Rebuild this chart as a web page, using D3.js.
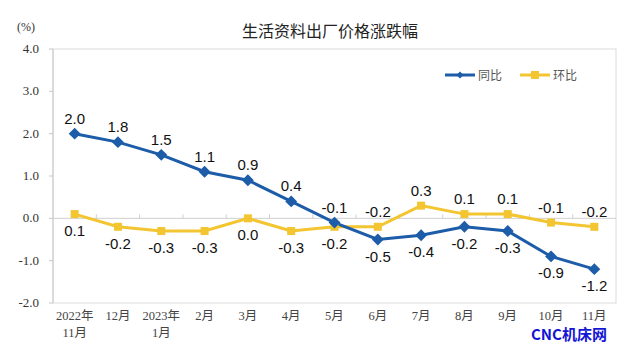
<!DOCTYPE html>
<html>
<head>
<meta charset="utf-8">
<script src="https://cdn.jsdelivr.net/npm/d3@7.9.0/dist/d3.min.js"></script>
<style>
  body { margin: 0; background: #fff; }
  svg { display: block; }
</style>
</head>
<body>
<svg id="chart" width="639" height="363"></svg>
<script>
// months, two lines per label
const months = [
  ['2022年', '11月'], ['12月'], ['2023年', '1月'], ['2月'], ['3月'], ['4月'],
  ['5月'], ['6月'], ['7月'], ['8月'], ['9月'], ['10月'], ['11月']
];
const yoy = [2.0, 1.8, 1.5, 1.1, 0.9, 0.4, -0.1, -0.5, -0.4, -0.2, -0.3, -0.9, -1.2];
const mom = [0.1, -0.2, -0.3, -0.3, 0.0, -0.3, -0.2, -0.2, 0.3, 0.1, 0.1, -0.1, -0.2];
// label above (1) or below (-1) the point
const yoyPos = [1, 1, 1, 1, 1, 1, 1, -1, -1, -1, -1, -1, -1];
const momPos = [-1, -1, -1, -1, -1, -1, -1, 1, 1, 1, 1, 1, 1];
const yTicks = [4.0, 3.0, 2.0, 1.0, 0.0, -1.0, -2.0];

const blue = '#1c5ca8';
const yellow = '#f2c531';

const svg = d3.select('#chart');
const margin = { top: 49, right: 23, bottom: 60, left: 53 };
const width = 639, height = 363;

const x = d3.scaleBand()
  .domain(d3.range(months.length))
  .range([margin.left, width - margin.right]);
const y = d3.scaleLinear().domain([-2, 4]).range([height - margin.bottom, margin.top]);
const cx = (i) => x(i) + x.bandwidth() / 2;

// frame
svg.append('rect')
  .attr('x', margin.left).attr('y', margin.top)
  .attr('width', width - margin.right - margin.left)
  .attr('height', y(-2) - y(4))
  .attr('fill', 'none').attr('stroke', '#dcdcdc');

// left axis line
svg.append('line')
  .attr('x1', margin.left).attr('x2', margin.left)
  .attr('y1', y(4)).attr('y2', y(-2))
  .attr('stroke', '#c8c8c8');

// y ticks + labels
svg.append('g').selectAll('line').data(yTicks).join('line')
  .attr('x1', margin.left - 4).attr('x2', margin.left)
  .attr('y1', (d) => y(d)).attr('y2', (d) => y(d))
  .attr('stroke', '#c8c8c8');
svg.append('g').selectAll('text').data(yTicks).join('text')
  .attr('x', 39).attr('y', (d) => y(d) + 4)
  .attr('text-anchor', 'end')
  .attr('font-family', 'Liberation Serif, serif')
  .attr('font-size', 13).attr('fill', '#333')
  .text((d) => d.toFixed(1));

// zero line with category ticks
svg.append('line')
  .attr('x1', margin.left).attr('x2', width - margin.right)
  .attr('y1', y(0)).attr('y2', y(0))
  .attr('stroke', '#cfcfcf');
svg.append('g').selectAll('line').data(d3.range(1, months.length)).join('line')
  .attr('x1', (i) => x(i)).attr('x2', (i) => x(i))
  .attr('y1', y(0) - 4).attr('y2', y(0))
  .attr('stroke', '#cfcfcf');

// x labels
const xl = svg.append('g').selectAll('text').data(months).join('text')
  .attr('x', (d, i) => cx(i)).attr('y', 320)
  .attr('text-anchor', 'middle')
  .attr('font-family', 'Liberation Serif, Noto Sans CJK SC, serif')
  .attr('font-size', 12.5).attr('fill', '#444');
xl.selectAll('tspan').data((d) => d).join('tspan')
  .attr('x', function () { return this.parentNode.getAttribute('x'); })
  .attr('dy', (d, j) => (j === 0 ? 0 : 17))
  .text((d) => d);

// lines
const line = (vals) => d3.line().x((d, i) => cx(i)).y((d) => y(d))(vals);
svg.append('path').attr('d', line(mom)).attr('fill', 'none')
  .attr('stroke', yellow).attr('stroke-width', 3);
svg.append('path').attr('d', line(yoy)).attr('fill', 'none')
  .attr('stroke', blue).attr('stroke-width', 3);

// markers
svg.append('g').selectAll('rect').data(mom).join('rect')
  .attr('x', (d, i) => cx(i) - 4).attr('y', (d) => y(d) - 4)
  .attr('width', 8).attr('height', 8).attr('fill', yellow);
svg.append('g').selectAll('path').data(yoy).join('path')
  .attr('d', d3.symbol(d3.symbolDiamond2, 90))
  .attr('transform', (d, i) => `translate(${cx(i)},${y(d)})`)
  .attr('fill', blue);

// data labels
const labelFont = 'Liberation Sans, Arial, sans-serif';
function labels(vals, pos) {
  svg.append('g').selectAll('text').data(vals).join('text')
    .attr('x', (d, i) => cx(i))
    .attr('y', (d, i) => y(d) + (pos[i] > 0 ? -10 : 22))
    .attr('text-anchor', 'middle')
    .attr('font-family', labelFont).attr('font-size', 15).attr('fill', '#111')
    .text((d) => d.toFixed(1));
}
labels(yoy, yoyPos);
labels(mom, momPos);

// legend
const lg = svg.append('g');
lg.append('line').attr('x1', 445).attr('x2', 475).attr('y1', 75).attr('y2', 75)
  .attr('stroke', blue).attr('stroke-width', 3);
lg.append('path').attr('d', d3.symbol(d3.symbolDiamond2, 30))
  .attr('transform', 'translate(460,75)').attr('fill', blue);
lg.append('text').attr('x', 478).attr('y', 80)
  .attr('font-family', 'Noto Sans CJK SC, sans-serif').attr('font-size', 12).attr('fill', '#555')
  .text('同比');
lg.append('line').attr('x1', 520).attr('x2', 550).attr('y1', 75).attr('y2', 75)
  .attr('stroke', yellow).attr('stroke-width', 3);
lg.append('rect').attr('x', 531).attr('y', 71).attr('width', 8).attr('height', 8).attr('fill', yellow);
lg.append('text').attr('x', 553).attr('y', 80)
  .attr('font-family', 'Noto Sans CJK SC, sans-serif').attr('font-size', 12).attr('fill', '#555')
  .text('环比');

// title and unit
svg.append('text').attr('x', 330).attr('y', 37).attr('text-anchor', 'middle')
  .attr('font-family', 'Noto Sans CJK SC, sans-serif').attr('font-size', 16).attr('fill', '#222')
  .text('生活资料出厂价格涨跌幅');
svg.append('text').attr('x', 17).attr('y', 31)
  .attr('font-family', 'Liberation Serif, serif').attr('font-size', 12).attr('fill', '#333')
  .text('(%)');

// watermark
svg.append('text').attr('x', 569).attr('y', 340).attr('text-anchor', 'middle')
  .attr('font-family', 'Noto Sans CJK SC, sans-serif').attr('font-weight', 'bold')
  .attr('font-size', 15).attr('fill', '#1515d6')
  .text('CNC机床网');
</script>
</body>
</html>
